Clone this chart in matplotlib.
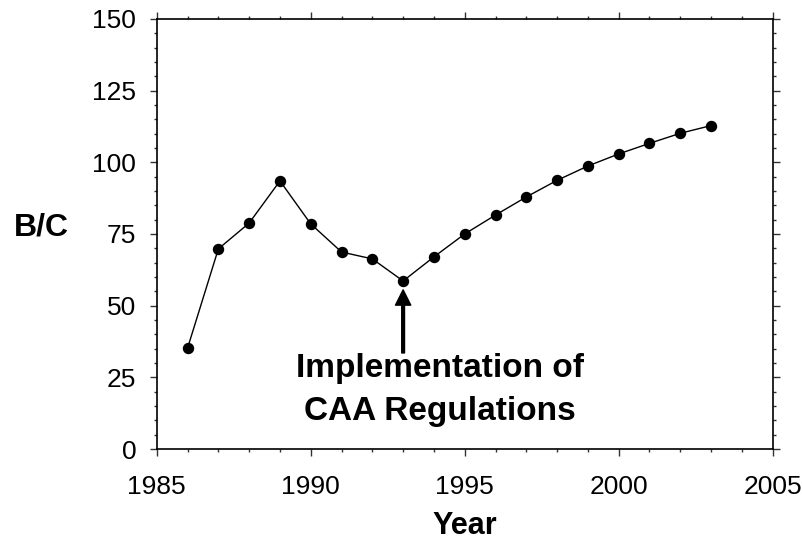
import matplotlib
matplotlib.use("Agg")
import matplotlib.pyplot as plt
from matplotlib.ticker import MultipleLocator

plt.rcParams["font.family"] = ["Liberation Sans", "DejaVu Sans"]

# Benefit/cost ratio by year
years = [1986, 1987, 1988, 1989, 1990, 1991, 1992, 1993, 1994,
         1995, 1996, 1997, 1998, 1999, 2000, 2001, 2002, 2003]
bc_ratio = [35.2, 69.8, 78.8, 93.5, 78.5, 68.7, 66.3, 58.6, 67.0,
            75.0, 81.6, 87.9, 93.7, 98.7, 102.9, 106.6, 110.1, 112.8]

note_text = "Implementation of\nCAA Regulations"
note_year = 1993

fig = plt.figure(figsize=(8.04, 5.40), dpi=100)
ax = fig.add_axes([0.195, 0.1685, 0.766, 0.7965])

ax.plot(years, bc_ratio, color="black", linewidth=1.0,
        marker="o", markersize=7.2, markerfacecolor="black")

ax.set_xlim(1985, 2005)
ax.set_ylim(0, 150)
ax.xaxis.set_major_locator(MultipleLocator(5))
ax.xaxis.set_minor_locator(MultipleLocator(1))
ax.yaxis.set_major_locator(MultipleLocator(25))
ax.yaxis.set_minor_locator(MultipleLocator(5))

ax.tick_params(which="both", direction="out", top=True, right=True,
               labelsize=19, color="#333333", width=1)
ax.tick_params(which="major", length=4.8, pad=10)
ax.tick_params(axis="x", which="major", pad=14)
ax.tick_params(which="minor", length=2.4)
for sp in ax.spines.values():
    sp.set_linewidth(1.2)

ax.set_xlabel("Year", fontsize=22, fontweight="bold", va="baseline")
ax.xaxis.set_label_coords(0.5, -0.197)
ax.set_ylabel("B/C", fontsize=23, fontweight="bold", rotation=0,
              va="center", ha="center")
ax.yaxis.set_label_coords(-0.187, 0.514)

ax.annotate("", xy=(note_year, 55.5), xytext=(note_year, 33.5),
            arrowprops=dict(facecolor="black", edgecolor="black", width=2,
                            headwidth=11, headlength=11, shrink=0))
ax.text(1994.2, 20.6, note_text, fontsize=24, fontweight="bold",
        ha="center", va="center", linespacing=1.5)

fig.savefig("out.png", dpi=100)
